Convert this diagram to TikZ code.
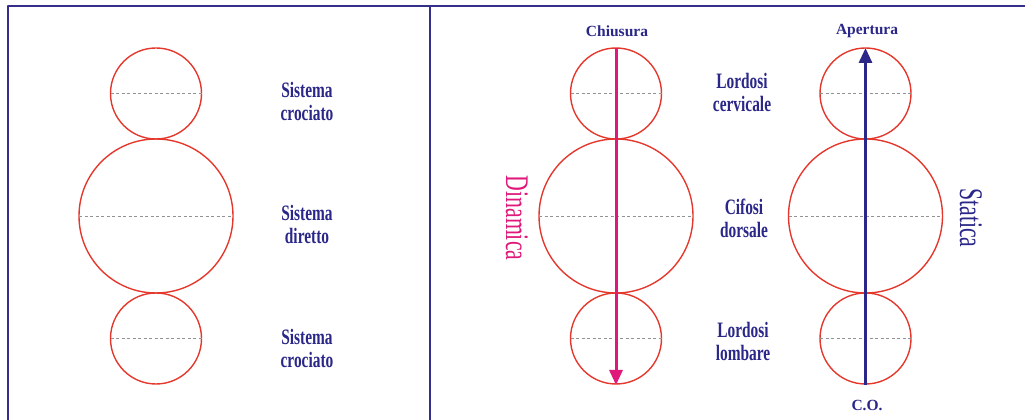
\documentclass[tikz,border=0pt]{standalone}
\usepackage{fontspec}
\setmainfont{Liberation Serif}
\newfontfamily\narrowfont[FakeStretch=0.7]{Liberation Serif}
\newfontfamily\sidefont[FakeStretch=0.66]{Liberation Serif}
\usetikzlibrary{arrows.meta}
\definecolor{navy}{HTML}{2A2788}
\definecolor{framec}{HTML}{34308A}
\definecolor{ringred}{HTML}{E5382C}
\definecolor{dinpink}{HTML}{E0187A}
\tikzset{
	ring/.style={draw=ringred, line width=1.4pt},
	midline/.style={draw=gray!85, dash pattern=on 3pt off 2.5pt, line width=0.7pt},
	lab/.style={text=navy, font=\narrowfont\bfseries\fontsize{22}{23}\selectfont, align=center},
	toplab/.style={text=navy, font=\bfseries\fontsize{15.5}{16}\selectfont},
	sidelab/.style={rotate=-90, font=\sidefont\fontsize{33}{34}\selectfont},
	shaft/.style={line width=3pt, -{Triangle[width=13pt,length=15pt]}}
}
\begin{document}
\begin{tikzpicture}[x=1pt, y=1pt, line join=round]
	\useasboundingbox (0,0) rectangle (1025,420);
	% frame
	\coordinate (TL) at (7.5,413.5);
	\coordinate (TR) at (1025,413.5);
	\coordinate (BL) at (7.5,0);
	\coordinate (DT) at (430,413.5);
	\coordinate (DB) at (430,0);
	\draw[framec, line width=2pt] (BL) -- (TL) -- (TR);
	\draw[framec, line width=1.6pt] (DT) -- (DB);
	% circles with dashed diameters
	\foreach \cx in {156,616,865.5}
	\foreach \cy/\r in {326.5/45.5, 204/77, 81.5/45.5} {
		\draw[ring] (\cx,\cy) circle (\r);
		\draw[midline] (\cx-\r,\cy) -- (\cx+\r,\cy);
	}
	% arrows
	\coordinate (ChiT) at (616,372);
	\coordinate (ChiB) at (616,35);
	\coordinate (ApeT) at (865.5,372);
	\coordinate (ApeB) at (865.5,35);
	\draw[shaft, dinpink] (ChiT) -- (ChiB);
	\draw[shaft, navy] (ApeB) -- (ApeT);
	% left labels
	\node[lab] (sc1) at (307,318.5) {Sistema\\crociato};
	\node[lab] (sd) at (307,195.5) {Sistema\\diretto};
	\node[lab] (sc2) at (307,72) {Sistema\\crociato};
	% right labels
	\node[lab] (lc) at (742,327.5) {Lordosi\\cervicale};
	\node[lab] (cd) at (744,201.5) {Cifosi\\dorsale};
	\node[lab] (ll) at (743,78.5) {Lordosi\\lombare};
	\node[toplab] (chi) at (617,389) {Chiusura};
	\node[toplab] (ape) at (867,389) {Apertura};
	\node[toplab] (co) at (867,15) {C.O.};
	\node[sidelab, text=dinpink] (din) at (517,202) {Dinamica};
	\node[sidelab, text=navy] (sta) at (971,202) {Statica};
\end{tikzpicture}
\end{document}
